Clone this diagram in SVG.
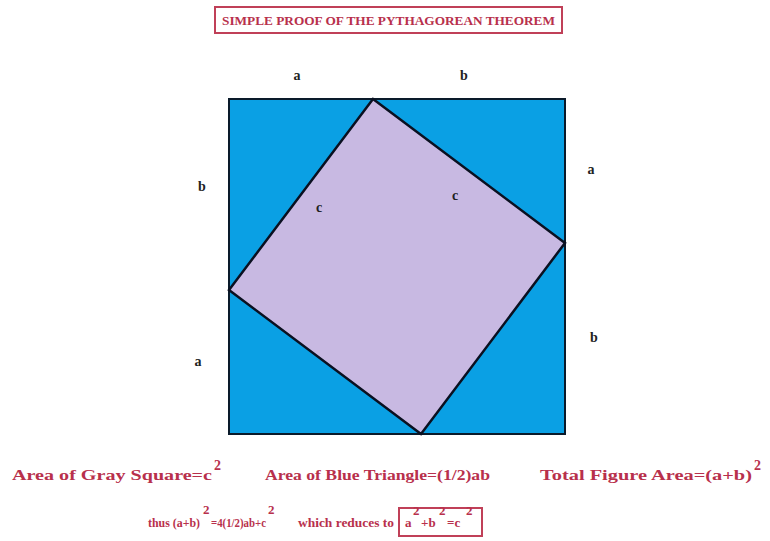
<svg xmlns="http://www.w3.org/2000/svg" width="770" height="541" viewBox="0 0 770 541">
<style>
.t{font-family:"Liberation Serif","Times New Roman",serif;font-weight:bold;fill:#b8304c}
.lbl{font-family:"Liberation Serif","Times New Roman",serif;font-weight:bold;font-size:14px;fill:#222;text-anchor:middle}
.box{fill:none;stroke:#c04058;stroke-width:2}
</style>
<rect width="770" height="541" fill="#ffffff"/>
<g id="title">
<rect class="box" x="215" y="7" width="347" height="26"/>
<text class="t" x="222" y="25" font-size="13" textLength="333" lengthAdjust="spacingAndGlyphs">SIMPLE PROOF OF THE PYTHAGOREAN THEOREM</text>
</g>
<g id="outer-square">
<rect x="229" y="99" width="336" height="335" fill="#0aa0e4" stroke="#0a1a2a" stroke-width="2"/>
</g>
<g id="inner-square">
<polygon points="373,99 565,243 421,434 229,290" fill="#c8b9e2" stroke="#0a1020" stroke-width="2.5" stroke-linejoin="miter"/>
</g>
<g id="labels">
<text class="lbl" x="297" y="80">a</text>
<text class="lbl" x="464" y="80">b</text>
<text class="lbl" x="202" y="191">b</text>
<text class="lbl" x="591" y="174">a</text>
<text class="lbl" x="319" y="212">c</text>
<text class="lbl" x="455" y="200">c</text>
<text class="lbl" x="198" y="366">a</text>
<text class="lbl" x="594" y="342">b</text>
</g>
<g id="formulas">
<text class="t" x="12" y="480" font-size="14" textLength="200" lengthAdjust="spacingAndGlyphs">Area of  Gray Square=c</text>
<text class="t" x="214" y="470" font-size="14">2</text>
<text class="t" x="265" y="480" font-size="14" textLength="225" lengthAdjust="spacingAndGlyphs">Area of Blue Triangle=(1/2)ab</text>
<text class="t" x="540" y="480" font-size="14" textLength="212" lengthAdjust="spacingAndGlyphs">Total Figure Area=(a+b)</text>
<text class="t" x="754" y="470" font-size="14">2</text>
<text class="t" x="148" y="527" font-size="12" textLength="52" lengthAdjust="spacingAndGlyphs">thus  (a+b)</text>
<text class="t" x="203" y="514" font-size="13">2</text>
<text class="t" x="211" y="527" font-size="12" textLength="55" lengthAdjust="spacingAndGlyphs">=4(1/2)ab+c</text>
<text class="t" x="268" y="514" font-size="13">2</text>
<text class="t" x="298" y="527" font-size="13" textLength="96" lengthAdjust="spacingAndGlyphs">which reduces to</text>
</g>
<g id="result">
<rect class="box" x="399" y="508" width="83" height="28"/>
<text class="t" x="405" y="527" font-size="13">a</text>
<text class="t" x="413" y="515" font-size="13">2</text>
<text class="t" x="421" y="527" font-size="13">+b</text>
<text class="t" x="439" y="515" font-size="13">2</text>
<text class="t" x="447" y="527" font-size="13">=c</text>
<text class="t" x="466" y="515" font-size="13">2</text>
</g>
</svg>
